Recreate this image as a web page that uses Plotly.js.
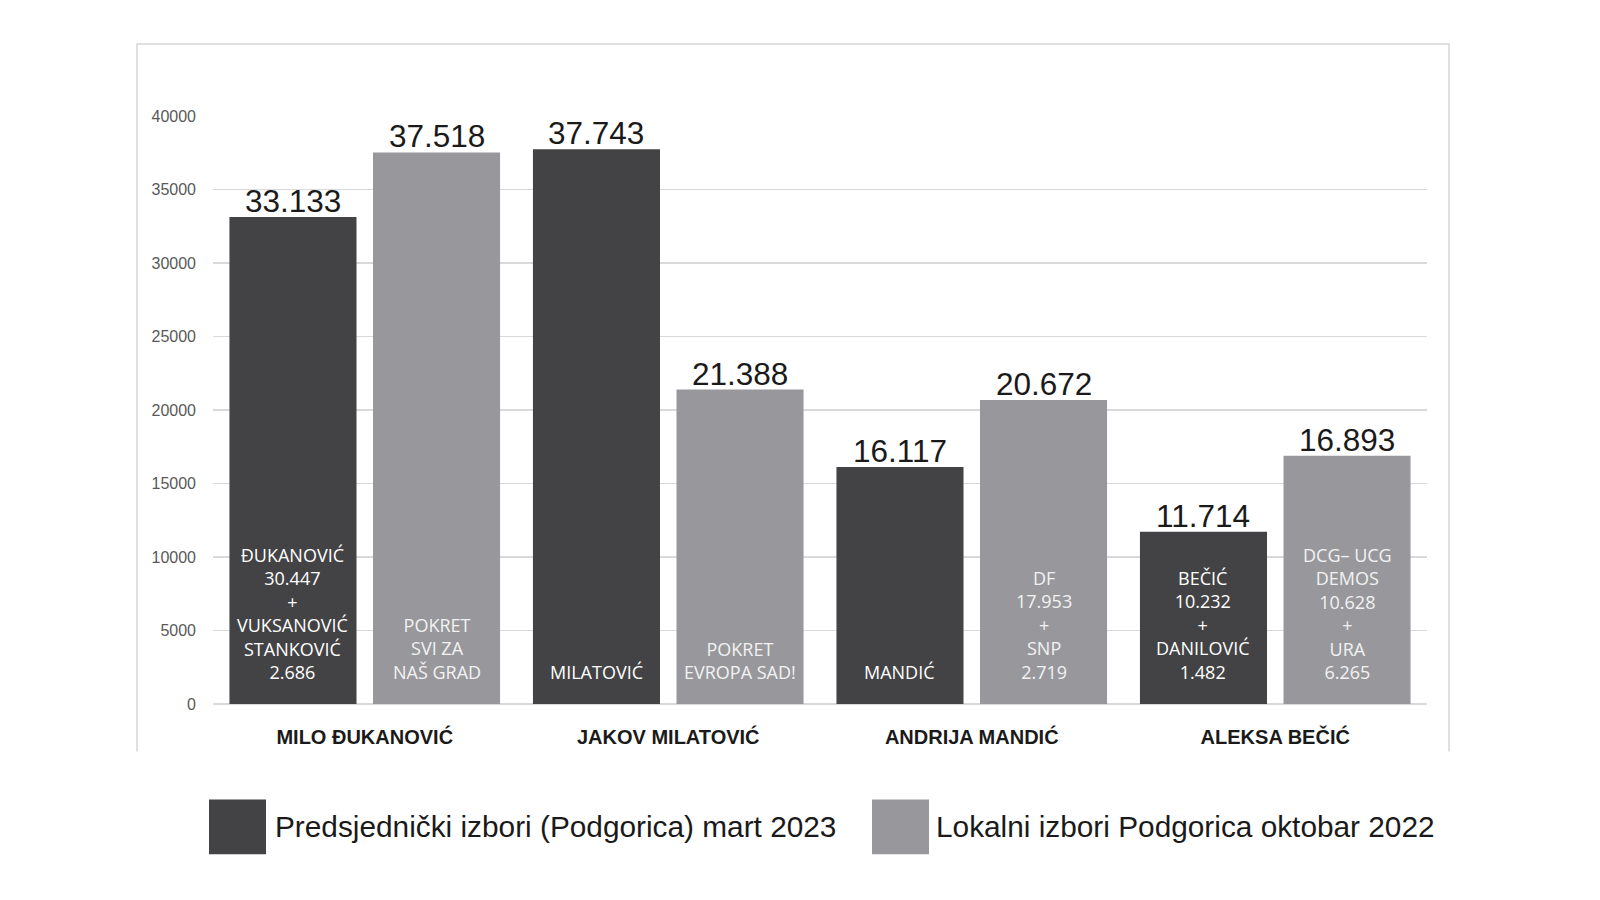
<!DOCTYPE html>
<html>
<head>
<meta charset="utf-8">
<script src="https://cdn.plot.ly/plotly-3.0.1.min.js"></script>
<style>html,body{margin:0;padding:0;background:#fff;}#chart{width:1600px;height:900px;}</style>
</head>
<body>
<div id="chart"></div>
<script>
// ---- data ----
const categories = ['MILO ĐUKANOVIĆ', 'JAKOV MILATOVIĆ', 'ANDRIJA MANDIĆ', 'ALEKSA BEČIĆ'];
const seriesNames = ['Predsjednički izbori (Podgorica) mart 2023', 'Lokalni izbori Podgorica oktobar 2022'];
const presidential2023 = [33133, 37743, 16117, 11714];
const local2022 = [37518, 21388, 20672, 16893];
const presidentialLabels = [
  'ĐUKANOVIĆ<br>30.447<br>+<br>VUKSANOVIĆ<br>STANKOVIĆ<br>2.686',
  'MILATOVIĆ',
  'MANDIĆ',
  'BEČIĆ<br>10.232<br>+<br>DANILOVIĆ<br>1.482'
];
const localLabels = [
  'POKRET<br>SVI ZA<br>NAŠ GRAD',
  'POKRET<br>EVROPA SAD!',
  'DF<br>17.953<br>+<br>SNP<br>2.719',
  'DCG– UCG<br>DEMOS<br>10.628<br>+<br>URA<br>6.265'
];
const yTicks = [0, 5000, 10000, 15000, 20000, 25000, 30000, 35000, 40000];

// ---- style / layout ----
const DARK = '#434345', LIGHT = '#98989c';
const W = 1600, H = 900, ML = 213, MR = 173, MT = 116, MB = 195.5;
const plotW = W - ML - MR, plotH = H - MT - MB;
const px = x => (x - ML) / plotW;
const py = y => (H - MB - y) / plotH;
const BARGAP = 0.054, GROUPGAP = 0.115;
const offset = (1 - BARGAP) / 4;
const valFont = {family: 'Liberation Sans, Arial, sans-serif', size: 31.5, color: '#1a1a1a'};

const traces = [
  {type: 'bar', name: seriesNames[0], x: categories, y: presidential2023,
   marker: {color: DARK}, hoverinfo: 'x+y+name'},
  {type: 'bar', name: seriesNames[1], x: categories, y: local2022,
   marker: {color: LIGHT}, hoverinfo: 'x+y+name'}
];

const fmt = v => String(v).replace(/\B(?=(\d{3})+(?!\d))/g, '.');
const annotations = [];
const inFont = c => ({family: 'Open Sans, Noto Sans, sans-serif', size: 18, color: c});
categories.forEach((c, i) => {
  // values above bars
  annotations.push({x: i - offset, y: presidential2023[i], xref: 'x', yref: 'y', text: fmt(presidential2023[i]),
    showarrow: false, yanchor: 'bottom', xanchor: 'center', yshift: -4, font: valFont});
  annotations.push({x: i + offset, y: local2022[i], xref: 'x', yref: 'y', text: fmt(local2022[i]),
    showarrow: false, yanchor: 'bottom', xanchor: 'center', yshift: -4, font: valFont});
  // labels inside bars
  annotations.push({x: i - offset, y: 0, xref: 'x', yref: 'y', text: presidentialLabels[i],
    showarrow: false, yanchor: 'bottom', xanchor: 'center', align: 'center', yshift: 18,
    font: inFont('#ffffff')});
  annotations.push({x: i + offset, y: 0, xref: 'x', yref: 'y', text: localLabels[i],
    showarrow: false, yanchor: 'bottom', xanchor: 'center', align: 'center', yshift: 18,
    font: inFont('#f2f2f2')});
});

// custom legend
const legFont = {family: 'Liberation Sans, Arial, sans-serif', size: 29.8, color: '#1a1a1a'};
const legendItems = [
  {x0: 209, x1: 266, tx: 272.5, color: DARK, text: seriesNames[0]},
  {x0: 872, x1: 929, tx: 934, color: LIGHT, text: seriesNames[1]}
];
const shapes = [];
legendItems.forEach(it => {
  shapes.push({type: 'rect', xref: 'paper', yref: 'paper', x0: px(it.x0), x1: px(it.x1),
    y0: py(855), y1: py(800), fillcolor: it.color, line: {width: 0}, layer: 'above'});
  annotations.push({xref: 'paper', yref: 'paper', x: px(it.tx), y: py(827.5), text: it.text,
    showarrow: false, xanchor: 'left', yanchor: 'middle', font: legFont});
});
// frame (open at bottom)
shapes.push({type: 'path', xref: 'paper', yref: 'paper',
  path: `M ${px(137)} ${py(752)} L ${px(137)} ${py(44)} L ${px(1449)} ${py(44)} L ${px(1449)} ${py(752)}`,
  line: {color: '#d6d6d6', width: 1.5}});

const layout = {
  width: W, height: H,
  margin: {l: ML, r: MR, t: MT, b: MB, pad: 0},
  paper_bgcolor: '#ffffff', plot_bgcolor: '#ffffff',
  barmode: 'group', bargap: BARGAP, bargroupgap: GROUPGAP,
  showlegend: false,
  xaxis: {type: 'category', showgrid: false, zeroline: false, showline: false, ticks: '',
    tickfont: {family: 'Liberation Sans, Arial, sans-serif', size: 20, color: '#1a1a1a', weight: 'bold'},
    ticklabelstandoff: 19, fixedrange: true},
  yaxis: {range: [0, 40000], tickvals: yTicks, tickformat: 'd', showgrid: true,
    gridcolor: '#d9d9d9', gridwidth: 1.5, zeroline: true, zerolinecolor: '#d9d9d9', zerolinewidth: 1.5,
    showline: false, ticks: '',
    tickfont: {family: 'Liberation Sans, Arial, sans-serif', size: 16, color: '#595959'},
    ticklabelstandoff: 16, fixedrange: true},
  annotations: annotations,
  shapes: shapes,
  font: {family: 'Liberation Sans, Arial, sans-serif'}
};

Plotly.newPlot('chart', traces, layout, {displayModeBar: false, staticPlot: true});
</script>
</body>
</html>
